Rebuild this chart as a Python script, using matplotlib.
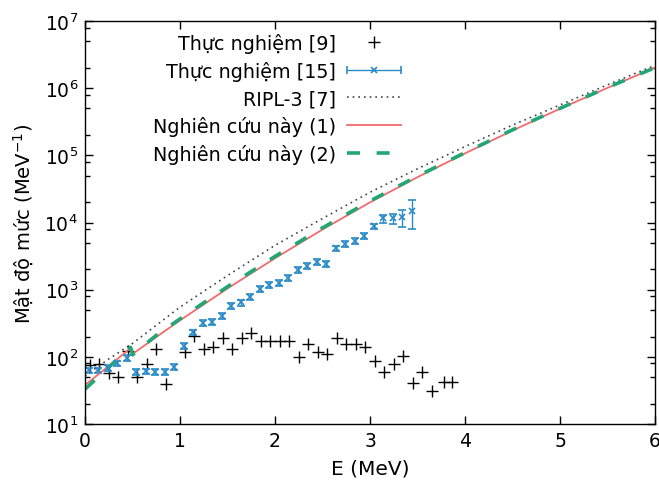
import matplotlib
matplotlib.use("Agg")
import matplotlib.pyplot as plt
from matplotlib.ticker import LogLocator, NullFormatter, MultipleLocator
from matplotlib.legend_handler import HandlerErrorbar
from matplotlib.container import ErrorbarContainer

# Thuc nghiem [9]
e_exp9 = [0.05, 0.15, 0.25, 0.35, 0.45, 0.55, 0.65, 0.75, 0.85, 1.05, 1.15, 1.25,
          1.35, 1.45, 1.55, 1.65, 1.75, 1.85, 1.95, 2.05, 2.15, 2.25, 2.35, 2.45,
          2.55, 2.65, 2.75, 2.85, 2.95, 3.05, 3.15, 3.25, 3.35, 3.45, 3.55, 3.65,
          3.78, 3.86]
rho_exp9 = [75, 78, 58, 50, 122, 50, 78, 130, 40, 117, 205, 129,
            139, 190, 129, 190, 226, 170, 174, 170, 170, 98, 155, 120,
            110, 190, 155, 155, 138, 87, 59, 78, 102, 41, 59, 31,
            42, 42]

# Thuc nghiem [15]
e_exp15 = [0.04, 0.14, 0.24, 0.34, 0.44, 0.54, 0.64, 0.74, 0.84, 0.94, 1.04, 1.14,
           1.24, 1.34, 1.44, 1.54, 1.64, 1.74, 1.84, 1.94, 2.04, 2.14, 2.24, 2.34,
           2.44, 2.54, 2.64, 2.74, 2.84, 2.94, 3.04, 3.14, 3.24, 3.34, 3.44]
rho_exp15 = [63, 63, 68, 80, 96, 59, 61, 59, 59, 70, 147, 232,
             319, 333, 408, 575, 645, 785, 1025, 1170, 1245, 1515, 1990, 2265,
             2560, 2400, 4120, 4790, 5370, 6240, 8780, 11500, 11500, 12000, 15000]
err_exp15 = [6, 6, 7, 8, 10, 6, 6, 6, 6, 7, 15, 23,
             32, 33, 41, 58, 65, 79, 100, 117, 125, 150, 200, 225,
             256, 240, 410, 480, 540, 620, 880, 1500, 2000, 3500, 7000]

# RIPL-3 [7]
e_ripl = [0.0, 0.25, 0.5, 0.75, 1.0, 1.5, 2.0, 2.5, 3.0, 3.5, 4.0, 4.5, 5.0, 5.5, 6.0]
rho_ripl = [52, 93, 158, 295, 550, 1622, 4571, 11480, 28180, 63100, 134900,
            281800, 562000, 1122000, 2188000]

# Nghien cuu nay (1)
e_model = [0.0, 0.25, 0.48, 0.5, 0.75, 1.0, 1.5, 2.0, 2.5, 3.0, 3.5, 4.0, 4.5, 5.0, 5.5, 6.0]
rho_model1 = [38, 73, 135, 110, 197, 349, 1042, 2938, 7870, 19950, 47300, 107000,
              234000, 495000, 1010000, 2020000]
# Nghien cuu nay (2)
rho_model2 = [33, 70, 138, 107, 209, 367, 1109, 3126, 8318, 20900, 49000, 109600,
              240000, 501000, 1023000, 2020000]

blue = "#2a8bc8"
red = "#f26b6b"
green = "#22a676"

plt.rcParams["font.family"] = ["DejaVu Sans"]
plt.rcParams["mathtext.default"] = "regular"

fig = plt.figure(figsize=(6.59, 4.85), dpi=100)
ax = fig.add_axes([85 / 659, 60 / 485, 570 / 659, 403 / 485])

p9, = ax.plot(e_exp9, rho_exp9, ls="none", marker="+", ms=8, mew=1.0, color="black")
ax.errorbar(e_exp15, rho_exp15, yerr=err_exp15, fmt="x", ms=5, mew=1.2,
            color=blue, elinewidth=1.0, capsize=2.8, capthick=1.8)
pr, = ax.plot(e_ripl, rho_ripl, color="#444444", lw=1.2, dashes=(1, 2.4))
p1, = ax.plot(e_model, rho_model1, color=red, lw=1.3)
p2, = ax.plot(e_model, rho_model2, color=green, lw=2.6, dashes=(3.6, 4.6))

# legend proxy: horizontal error bar like gnuplot's key
pl, = ax.plot([], [], ls="none", marker="x", ms=5, mew=1.2, color=blue)
bars = ax.hlines([], [], [], color=blue, lw=1.0)
capl, = ax.plot([], [], ls="none", marker="|", ms=5.5, mew=1.2, color=blue)
p15 = ErrorbarContainer((pl, (capl,), (bars,)), has_xerr=True, has_yerr=False)

ax.set_yscale("log")
ax.set_xlim(0, 6)
ax.set_ylim(10, 1e7)
ax.xaxis.set_major_locator(MultipleLocator(1))
ax.yaxis.set_major_locator(LogLocator(base=10, numticks=10))
ax.yaxis.set_minor_locator(LogLocator(base=10, subs=(2, 5, 8), numticks=20))
ax.yaxis.set_minor_formatter(NullFormatter())
ax.tick_params(which="both", direction="in", top=True, right=True, labelsize=13.5, pad=5)
ax.tick_params(which="major", length=6, width=1)
ax.tick_params(which="minor", length=3.5, width=1)
for s in ax.spines.values():
    s.set_linewidth(1.0)

ax.set_xlabel("E (MeV)", fontsize=14.5, labelpad=6)
ax.set_ylabel("Mật độ mức (MeV$^{-1}$)", fontsize=14, labelpad=6)

leg = ax.legend([p9, p15, pr, p1, p2],
                ["Thực nghiệm [9]", "Thực nghiệm [15]", "RIPL-3 [7]",
                 "Nghiên cứu này (1)", "Nghiên cứu này (2)"],
                handler_map={ErrorbarContainer: HandlerErrorbar(xerr_size=1.4)},
                loc="upper right", bbox_to_anchor=((401 - 85) / 570, (425 - 34) / 403),
                frameon=False, markerfirst=False, fontsize=13.8, numpoints=1,
                handlelength=2.8, handletextpad=0.6, labelspacing=0.42,
                borderpad=0, borderaxespad=0)

fig.savefig("out.png", dpi=100)
